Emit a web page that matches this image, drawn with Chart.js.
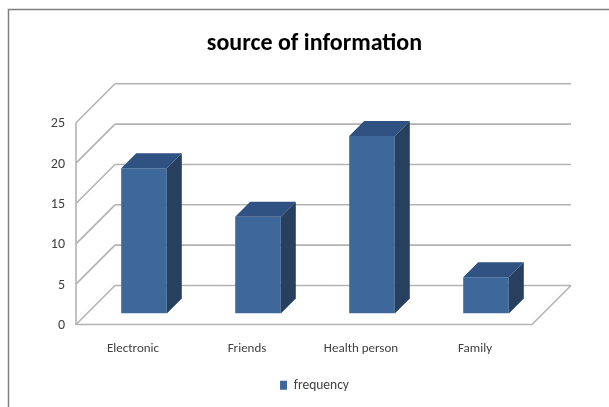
<!DOCTYPE html>
<html>
<head>
<meta charset="utf-8">
<script src="https://cdn.jsdelivr.net/npm/chart.js@4.4.1/dist/chart.umd.min.js"></script>
<style>
  html, body { margin: 0; padding: 0; background: #fff; }
  #wrap { width: 609px; height: 407px; }
</style>
</head>
<body>
<div id="wrap"><canvas id="sourceChart" width="609" height="407"></canvas></div>
<script>
// -------- DATA --------
const categories = ['Electronic', 'Friends', 'Health person', 'Family'];
const frequency = [18, 12, 22, 4.5];
const yTicks = [0, 5, 10, 15, 20, 25];

// -------- 3D LOOK --------
const FONT = 'Carlito, Lato, sans-serif';
const gridColor = '#b3b3b3';
const frontGap = 11;   // bar plane -> front plane
const backGap = 28;    // bar plane -> back wall
const barDepth = 15;

const faceFront = '#3e6899';
const faceTop = '#2f5282';
const faceSide = '#27405f';

// walls, floor and gridlines, drawn before the bars
const wallsPlugin = {
  id: 'walls',
  beforeDraw(chart) {
    const ctx = chart.ctx;
    ctx.save();
    ctx.strokeStyle = '#7f7f7f';
    ctx.lineWidth = 1.5;
    ctx.beginPath();
    ctx.moveTo(8.5, 407);
    ctx.lineTo(8.5, 9.5);
    ctx.lineTo(609, 9.5);
    ctx.stroke();
    ctx.restore();
  },
  beforeDatasetsDraw(chart) {
    const { ctx, chartArea: a, scales: { y } } = chart;
    const L = a.left, R = a.right;
    ctx.save();
    ctx.strokeStyle = gridColor;
    ctx.lineWidth = 1.6;
    ctx.beginPath();
    yTicks.forEach(v => {
      const py = y.getPixelForValue(v);
      // back wall line
      ctx.moveTo(L + backGap, py - backGap);
      ctx.lineTo(R + backGap, py - backGap);
      // side wall diagonal
      ctx.moveTo(L - frontGap, py + frontGap);
      ctx.lineTo(L + backGap, py - backGap);
    });
    // front vertical axis
    const top = y.getPixelForValue(yTicks[yTicks.length - 1]);
    const base = y.getPixelForValue(0);
    ctx.moveTo(L - frontGap, top + frontGap);
    ctx.lineTo(L - frontGap, base + frontGap);
    // floor front and right edges
    ctx.lineTo(R - frontGap, base + frontGap);
    ctx.lineTo(R + backGap, base - backGap);
    ctx.stroke();
    ctx.restore();
  },
  afterDatasetsDraw(chart) {
    const ctx = chart.ctx;
    const d = barDepth;
    ctx.save();
    chart.getDatasetMeta(0).data.forEach(bar => {
      const { x, y, base, width } = bar.getProps(['x', 'y', 'base', 'width'], true);
      const l = x - width / 2, r = x + width / 2;
      ctx.fillStyle = faceTop;
      ctx.beginPath();
      ctx.moveTo(l, y);
      ctx.lineTo(l + d, y - d);
      ctx.lineTo(r + d, y - d);
      ctx.lineTo(r, y);
      ctx.closePath();
      ctx.fill();
      ctx.fillStyle = faceSide;
      ctx.beginPath();
      ctx.moveTo(r, y);
      ctx.lineTo(r + d, y - d);
      ctx.lineTo(r + d, base - d);
      ctx.lineTo(r, base);
      ctx.closePath();
      ctx.fill();
    });
    ctx.restore();
  }
};

new Chart(document.getElementById('sourceChart'), {
  type: 'bar',
  data: {
    labels: categories,
    datasets: [{
      label: 'frequency',
      data: frequency,
      backgroundColor: faceFront,
      borderWidth: 0,
      categoryPercentage: 1,
      barPercentage: 0.4
    }]
  },
  options: {
    responsive: false,
    animation: false,
    layout: { padding: { left: 20, right: 0, top: 0, bottom: 5 } },
    scales: {
      x: {
        grid: { display: false, drawTicks: false },
        border: { display: false },
        ticks: {
          color: '#404040',
          font: { family: FONT, size: 13 },
          padding: 27,
          labelOffset: -frontGap,
          maxRotation: 0
        },
        afterFit: s => { s.height = 55; }
      },
      y: {
        min: 0,
        max: 25,
        grid: { display: false, drawTicks: false },
        border: { display: false },
        ticks: {
          stepSize: 5,
          color: '#404040',
          font: { family: FONT, size: 14 },
          padding: 22,
          labelOffset: frontGap + 1
        },
        afterFit: s => { s.width = 67; }
      },
      // empty right axis, keeps room for the floor and back wall depth
      yRight: {
        position: 'right',
        grid: { display: false, drawTicks: false },
        border: { display: false },
        ticks: { display: false },
        afterFit: s => { s.width = 66; }
      }
    },
    plugins: {
      title: {
        display: true,
        text: 'source of information',
        color: '#000',
        font: { family: FONT, size: 24, weight: 'bold' },
        padding: { top: 30, bottom: 53 }
      },
      legend: {
        position: 'bottom',
        labels: {
          color: '#404040',
          font: { family: FONT, size: 13.5 },
          boxWidth: 7,
          boxHeight: 9,
          padding: 10
        }
      },
      tooltip: { enabled: false }
    }
  },
  plugins: [wallsPlugin]
});
</script>
</body>
</html>
